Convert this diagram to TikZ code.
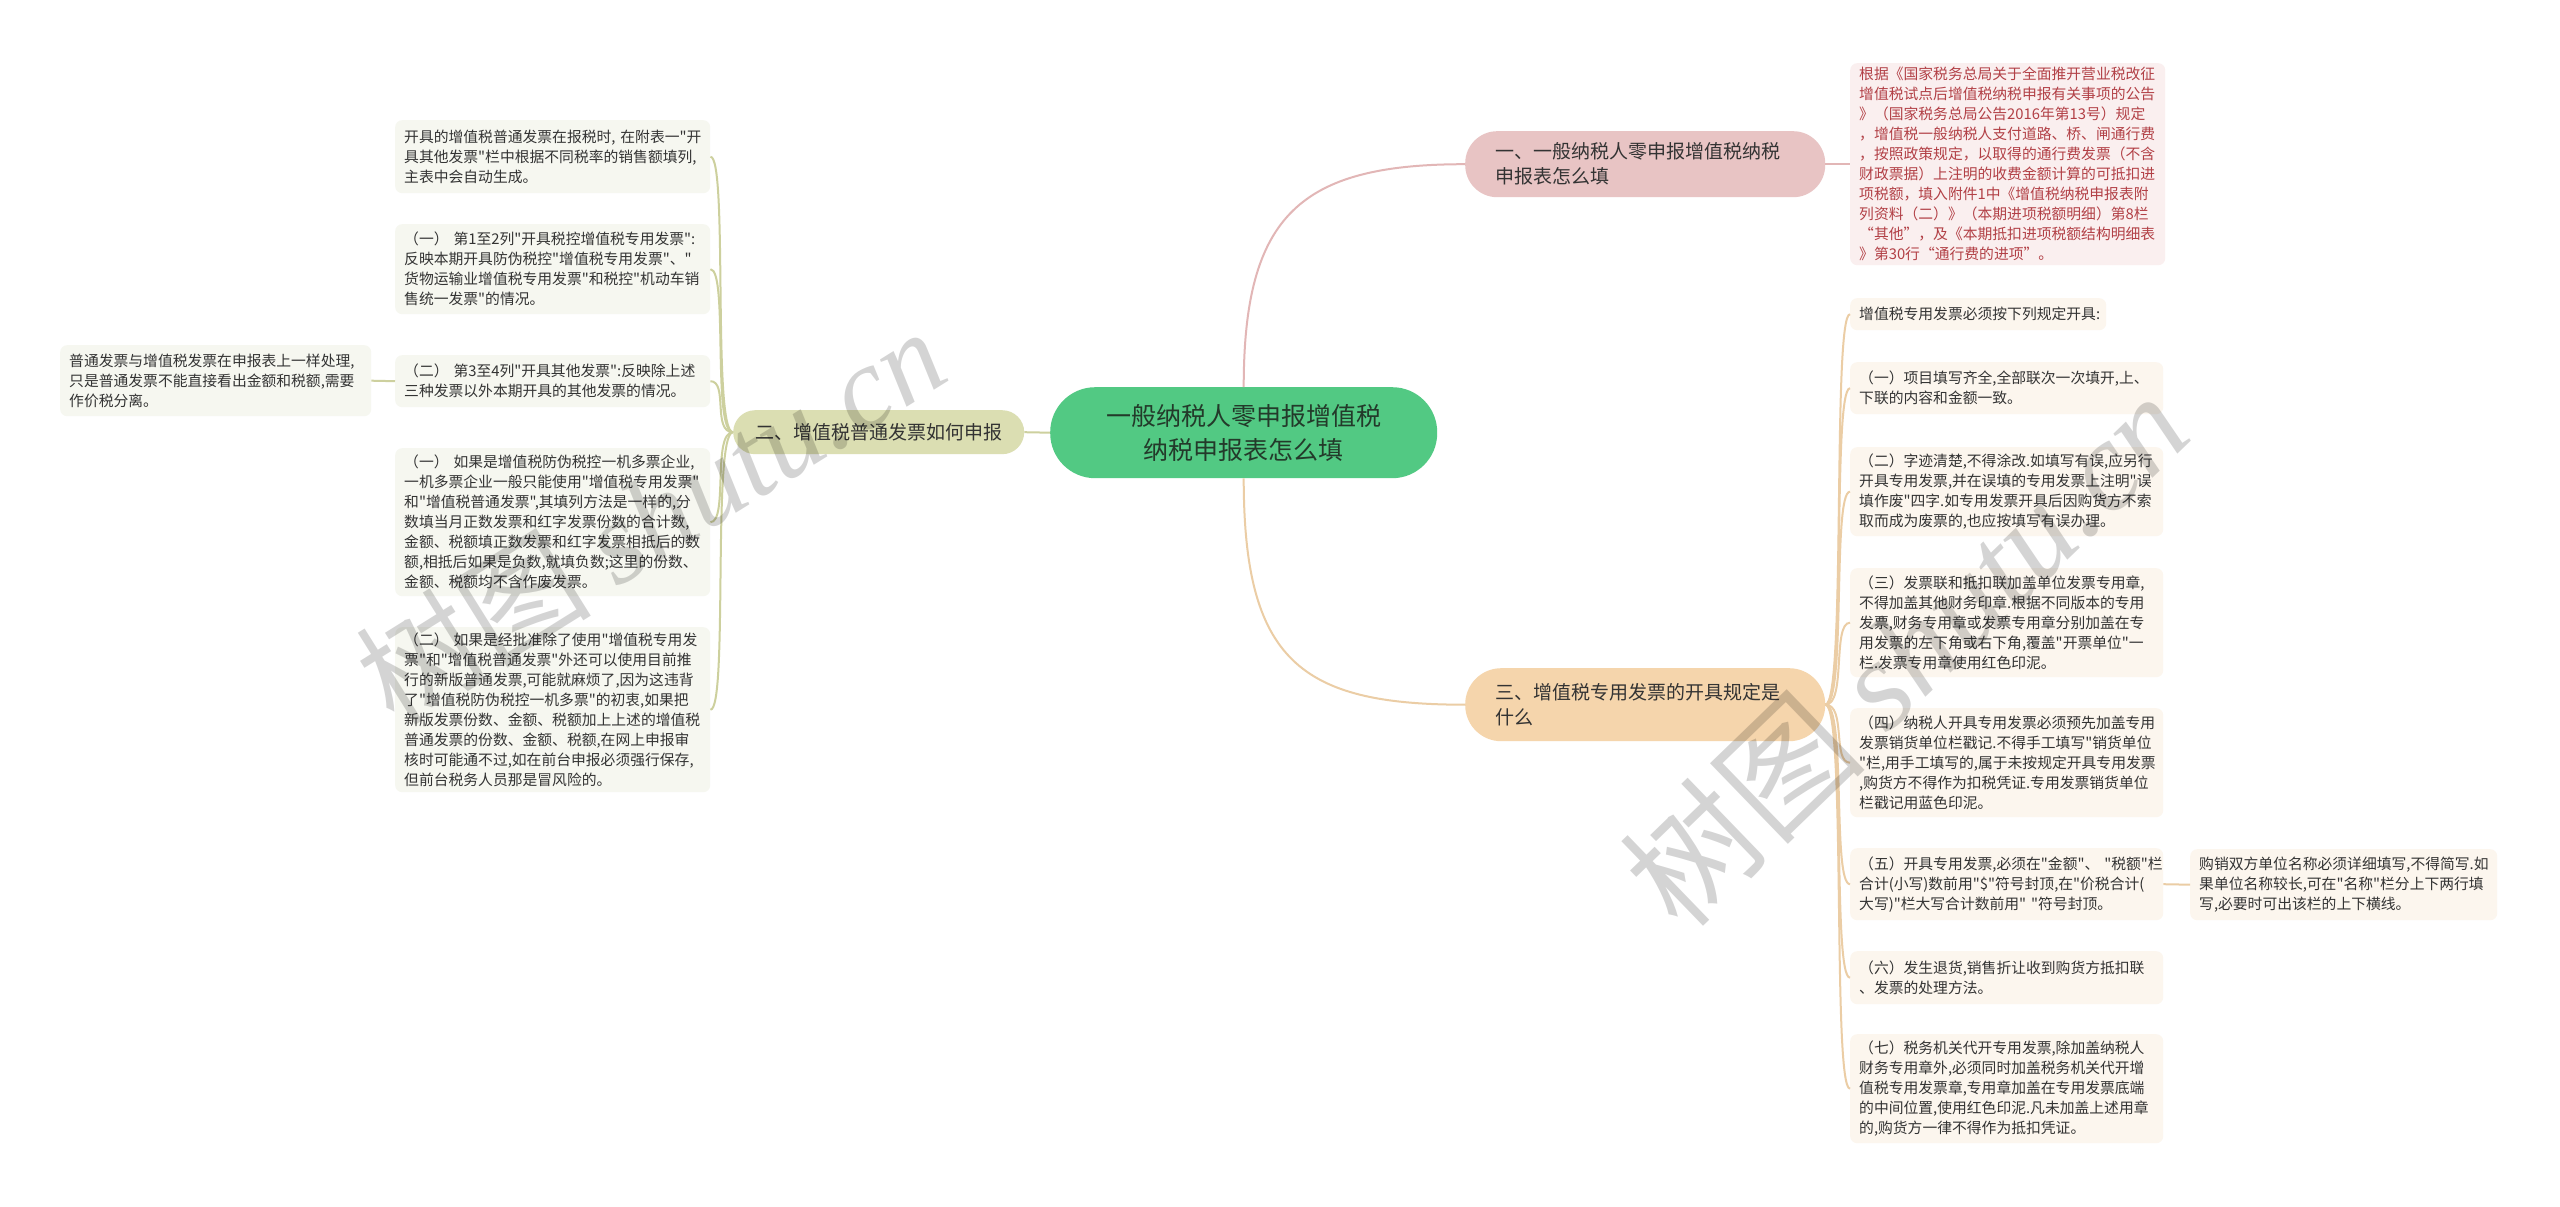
\documentclass[tikz,border=0pt]{standalone}
\usepackage{fontspec}
\setmainfont{Noto Sans CJK SC}[Ligatures=TeXOff]
\newfontfamily\wmlatin{Liberation Serif}
\definecolor{cgreen}{RGB}{82,201,131}
\definecolor{ctext}{RGB}{35,58,42}
\definecolor{olivefill}{RGB}{219,222,178}
\definecolor{oliveline}{RGB}{205,208,158}
\definecolor{oliveleaf}{RGB}{246,247,240}
\definecolor{pinkfill}{RGB}{232,196,196}
\definecolor{pinkline}{RGB}{226,182,182}
\definecolor{pinkleaf}{RGB}{250,239,239}
\definecolor{pinktext}{RGB}{178,64,70}
\definecolor{peachfill}{RGB}{245,213,172}
\definecolor{peachline}{RGB}{235,205,165}
\definecolor{peachleaf}{RGB}{252,246,238}
\definecolor{txt}{RGB}{51,51,51}
\tikzset{
  leafbase/.style={anchor=north west, rounded corners=7pt, inner xsep=9pt, inner ysep=0pt,
    align=left, text=txt, font=\fontsize{14.8}{20}\selectfont},
  leafO/.style={leafbase, fill=oliveleaf},
  leafP/.style={leafbase, fill=peachleaf},
  leafK/.style={leafbase, fill=pinkleaf, text=pinktext},
  branchbase/.style={anchor=north west, inner ysep=0pt, text=txt, font=\fontsize{19}{25}\selectfont},
  lineO/.style={draw=oliveline, line width=2pt},
  lineK/.style={draw=pinkline, line width=2pt},
  lineP/.style={draw=peachline, line width=2pt},
  wm/.style={text=black, opacity=0.17, font=\fontsize{118}{118}\selectfont}
}
\begin{document}
\begin{tikzpicture}[x=1pt,y=-1pt]
\useasboundingbox[fill=white] (0,0) rectangle (2560,1207);

% center
\node[anchor=north west, fill=cgreen, rounded corners=45pt, minimum width=387pt, minimum height=91pt,
  align=center, text=ctext, font=\fontsize{25}{34}\selectfont, inner sep=0pt] (center) at (1050,387)
  {一般纳税人零申报增值税\\纳税申报表怎么填};

% branches
\node[branchbase, fill=olivefill, rounded corners=22pt, minimum width=291pt, minimum height=44pt, align=center] (olive) at (733,410)
  {二、增值税普通发票如何申报};
\node[branchbase, fill=pinkfill, rounded corners=32pt, text width=300pt, inner xsep=30pt, minimum height=66pt, align=left] (pinkB) at (1465,131)
  {一、一般纳税人零申报增值税纳税\\申报表怎么填};
\node[branchbase, fill=peachfill, rounded corners=36pt, text width=300pt, inner xsep=30pt, minimum height=73pt, align=left] (peachB) at (1465,668)
  {三、增值税专用发票的开具规定是\\什么};

% left leaves
\node[leafO, text width=297pt, minimum height=73pt] (L1) at (395,120)
  {开具的增值税普通发票在报税时,~在附表一"开\\具其他发票"栏中根据不同税率的销售额填列,\\主表中会自动生成。};
\node[leafO, text width=297pt, minimum height=90pt] (L2) at (395,224)
  {（一）~第1至2列"开具税控增值税专用发票":\\反映本期开具防伪税控"增值税专用发票"、"\\货物运输业增值税专用发票"和税控"机动车销\\售统一发票"的情况。};
\node[leafO, text width=297pt, minimum height=52pt] (L3) at (395,355)
  {（二）~第3至4列"开具其他发票":反映除上述\\三种发票以外本期开具的其他发票的情况。};
\node[leafO, text width=297pt, minimum height=148pt] (L4) at (395,448)
  {（一）~如果是增值税防伪税控一机多票企业,\\一机多票企业一般只能使用"增值税专用发票"\\和"增值税普通发票",其填列方法是一样的,分\\数填当月正数发票和红字发票份数的合计数,\\金额、税额填正数发票和红字发票相抵后的数\\额,相抵后如果是负数,就填负数;这里的份数、\\金额、税额均不含作废发票。};
\node[leafO, text width=297pt, minimum height=165pt] (L5) at (395,627)
  {（二）~如果是经批准除了使用"增值税专用发\\票"和"增值税普通发票"外还可以使用目前推\\行的新版普通发票,可能就麻烦了,因为这违背\\了"增值税防伪税控一机多票"的初衷,如果把\\新版发票份数、金额、税额加上上述的增值税\\普通发票的份数、金额、税额,在网上申报审\\核时可能通不过,如在前台申报必须强行保存,\\但前台税务人员那是冒风险的。};
\node[leafO, text width=293pt, minimum height=71pt] (FL) at (60,345)
  {普通发票与增值税发票在申报表上一样处理,\\只是普通发票不能直接看出金额和税额,需要\\作价税分离。};

% pink leaf
\node[leafK, text width=297pt, minimum height=202pt] (K1) at (1850,63)
  {根据《国家税务总局关于全面推开营业税改征\\增值税试点后增值税纳税申报有关事项的公告\\》（国家税务总局公告2016年第13号）规定\\，增值税一般纳税人支付道路、桥、闸通行费\\，按照政策规定，以取得的通行费发票（不含\\财政票据）上注明的收费金额计算的可抵扣进\\项税额，填入附件1中《增值税纳税申报表附\\列资料（二）》（本期进项税额明细）第8栏\\“其他”，及《本期抵扣进项税额结构明细表\\》第30行“通行费的进项”。};

% peach leaves
\node[leafP, text width=238pt, minimum height=32pt] (Pa) at (1850,298)
  {增值税专用发票必须按下列规定开具:};
\node[leafP, text width=295pt, minimum height=52pt] (Pb) at (1850,362)
  {（一）项目填写齐全,全部联次一次填开,上、\\下联的内容和金额一致。};
\node[leafP, text width=295pt, minimum height=89pt] (Pc) at (1850,447)
  {（二）字迹清楚,不得涂改.如填写有误,应另行\\开具专用发票,并在误填的专用发票上注明"误\\填作废"四字.如专用发票开具后因购货方不索\\取而成为废票的,也应按填写有误办理。};
\node[leafP, text width=295pt, minimum height=109pt] (Pd) at (1850,568)
  {（三）发票联和抵扣联加盖单位发票专用章,\\不得加盖其他财务印章.根据不同版本的专用\\发票,财务专用章或发票专用章分别加盖在专\\用发票的左下角或右下角,覆盖"开票单位"一\\栏.发票专用章使用红色印泥。};
\node[leafP, text width=295pt, minimum height=109pt] (Pe) at (1850,708)
  {（四）纳税人开具专用发票必须预先加盖专用\\发票销货单位栏戳记.不得手工填写"销货单位\\"栏,用手工填写的,属于未按规定开具专用发票\\,购货方不得作为扣税凭证.专用发票销货单位\\栏戳记用蓝色印泥。};
\node[leafP, text width=295pt, minimum height=72pt] (Pf) at (1850,848)
  {（五）开具专用发票,必须在"金额"、~"税额"栏\\合计(小写)数前用"\$"符号封顶,在"价税合计(\\大写)"栏大写合计数前用"~"符号封顶。};
\node[leafP, text width=295pt, minimum height=53pt] (Pg) at (1850,951)
  {（六）发生退货,销售折让收到购货方抵扣联\\、发票的处理方法。};
\node[leafP, text width=295pt, minimum height=109pt] (Ph) at (1850,1034)
  {（七）税务机关代开专用发票,除加盖纳税人\\财务专用章外,必须同时加盖税务机关代开增\\值税专用发票章,专用章加盖在专用发票底端\\的中间位置,使用红色印泥.凡未加盖上述用章\\的,购货方一律不得作为抵扣凭证。};
\node[leafP, text width=289pt, minimum height=71pt] (FR) at (2190,849)
  {购销双方单位名称必须详细填写,不得简写.如\\果单位名称较长,可在"名称"栏分上下两行填\\写,必要时可出该栏的上下横线。};

% connectors
\draw[lineO] (center.west) -- (olive.east);
\foreach \n in {L1,L2,L3,L4,L5}
  \draw[lineO] (olive.west) .. controls +(-21,0) and +(18,0) .. (\n.east);
\draw[lineO] (FL.east) -- (L3.west);
\draw[lineK] (center.north) .. controls +(0,-172) and +(-165,0) .. (pinkB.west);
\draw[lineK] (pinkB.east) -- (K1.west);
\draw[lineP] (center.south) .. controls +(0,182) and +(-165,0) .. (peachB.west);
\foreach \n in {Pa,Pb,Pc,Pd,Pe,Pf,Pg,Ph}
  \draw[lineP] (peachB.east) .. controls +(21,0) and +(-18,0) .. (\n.west);
\draw[lineP] (Pf.east) -- (FR.west);

% watermarks
\node[wm, rotate=32] (wm1) at (650,515) {树图 {\wmlatin\itshape shutu.cn}};
\node[wm, rotate=44, font=\fontsize{128}{128}\selectfont] (wm2) at (1905,650) {树图 {\wmlatin\itshape shutu.cn}};
\end{tikzpicture}
\end{document}
